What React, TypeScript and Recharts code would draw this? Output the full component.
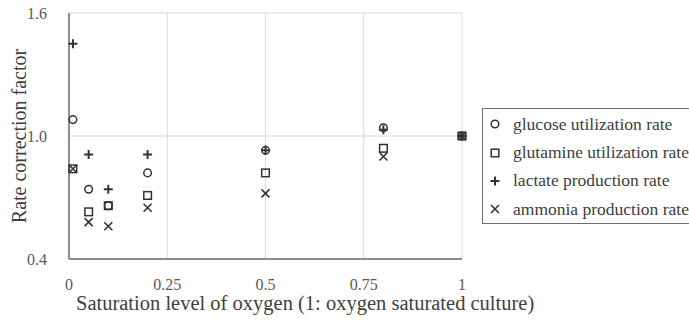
import { CartesianGrid, Scatter, ScatterChart, XAxis, YAxis, Label } from "recharts";

document.body.style.margin = "0";

const oxygenLevels = [0.01, 0.05, 0.1, 0.2, 0.5, 0.8, 1];
const glucose = [1.08, 0.74, 0.66, 0.82, 0.93, 1.04, 1.0];
const glutamine = [0.84, 0.63, 0.66, 0.71, 0.82, 0.94, 1.0];
const lactate = [1.45, 0.91, 0.74, 0.91, 0.93, 1.03, 1.0];
const ammonia = [0.84, 0.58, 0.56, 0.65, 0.72, 0.9, 1.0];

const xTicks = [0, 0.25, 0.5, 0.75, 1];
const yTicks = [0.4, 1.0, 1.6];

const INK = "#333333";
const TEXT = "#595959";
const FONT = "Liberation Serif";

type MarkerKind = "circle" | "square" | "plus" | "cross";

const series: { name: string; values: number[]; kind: MarkerKind }[] = [
  { name: "glucose utilization rate", values: glucose, kind: "circle" },
  { name: "glutamine utilization rate", values: glutamine, kind: "square" },
  { name: "lactate production rate", values: lactate, kind: "plus" },
  { name: "ammonia production rate", values: ammonia, kind: "cross" }
];

function toPoints(values: number[]) {
  return oxygenLevels.map((x, i) => ({ x, y: values[i] }));
}

function Marker({ kind, cx, cy }: { kind: MarkerKind; cx: number; cy: number }) {
  if (kind === "circle") {
    return <circle cx={cx} cy={cy} r={3.8} fill="none" stroke={INK} strokeWidth={1.5} />;
  }
  if (kind === "square") {
    return <rect x={cx - 3.8} y={cy - 3.8} width={7.6} height={7.6} fill="none" stroke={INK} strokeWidth={1.5} />;
  }
  if (kind === "plus") {
    return (
      <path d={`M${cx - 4.5},${cy}H${cx + 4.5}M${cx},${cy - 4.5}V${cy + 4.5}`} stroke={INK} strokeWidth={2} />
    );
  }
  return (
    <path
      d={`M${cx - 4},${cy - 4}L${cx + 4},${cy + 4}M${cx - 4},${cy + 4}L${cx + 4},${cy - 4}`}
      stroke={INK}
      strokeWidth={1.6}
    />
  );
}

function LegendBox() {
  return (
    <div
      style={{
        position: "absolute",
        left: 482,
        top: 108,
        width: 230,
        height: 116,
        border: "1px solid #6e6e6e",
        boxSizing: "border-box",
        paddingTop: 1,
        fontFamily: FONT,
        fontSize: 17.5,
        color: "#404040",
        background: "#fff"
      }}
    >
      {series.map((s) => (
        <div key={s.name} style={{ display: "flex", alignItems: "center", height: 28.4, whiteSpace: "nowrap" }}>
          <svg width={30} height={14} style={{ flex: "none" }}>
            <Marker kind={s.kind} cx={12} cy={7} />
          </svg>
          <span>{s.name}</span>
        </div>
      ))}
    </div>
  );
}

function XTitle(props: any) {
  const vb = props.viewBox;
  return (
    <text x={vb.x + 7} y={310} textAnchor="start" fill="#404040" fontSize={20.5} fontFamily={FONT}>
      Saturation level of oxygen (1: oxygen saturated culture)
    </text>
  );
}

export default function App() {
  return (
    <div style={{ position: "relative", width: 689, height: 320, overflow: "hidden", background: "#fff", fontFamily: FONT }}>
      <ScatterChart width={689} height={320} margin={{ top: 13, right: 227, bottom: 0, left: 0 }}>
        <CartesianGrid stroke="#d9d9d9" strokeWidth={1} horizontalValues={yTicks} verticalValues={xTicks} />
        <XAxis
          type="number"
          dataKey="x"
          domain={[0, 1]}
          ticks={xTicks}
          tickLine={false}
          axisLine={{ stroke: "#6e6e6e", strokeWidth: 1.5 }}
          tick={{ fill: TEXT, fontSize: 16, fontFamily: FONT }}
          tickMargin={14}
          height={61}
        >
          <Label content={<XTitle />} />
        </XAxis>
        <YAxis
          type="number"
          dataKey="y"
          domain={[0.4, 1.6]}
          ticks={yTicks}
          tickFormatter={(v: number) => v.toFixed(1)}
          tickLine={false}
          axisLine={{ stroke: "#6e6e6e", strokeWidth: 1.5 }}
          tick={{ fill: TEXT, fontSize: 16, fontFamily: FONT }}
          tickMargin={16}
          width={69}
        >
          <Label
            value="Rate correction factor"
            angle={-90}
            position="insideLeft"
            offset={19}
            style={{ fill: "#404040", fontSize: 20, fontFamily: FONT, textAnchor: "middle" }}
          />
        </YAxis>
        {series.map((s) => (
          <Scatter
            key={s.name}
            name={s.name}
            data={toPoints(s.values)}
            isAnimationActive={false}
            shape={(p: any) => <Marker kind={s.kind} cx={p.cx} cy={p.cy} />}
          />
        ))}
      </ScatterChart>
      <LegendBox />
    </div>
  );
}
